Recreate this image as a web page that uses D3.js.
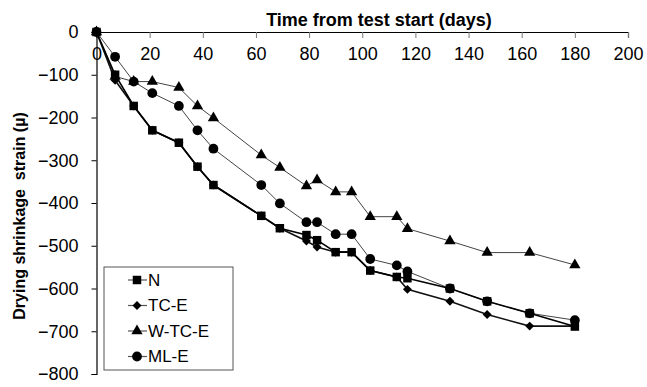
<!DOCTYPE html>
<html>
<head>
<meta charset="utf-8">
<script src="https://cdn.jsdelivr.net/npm/d3@7"></script>
<style>
  body { margin: 0; background: #fff; }
  svg { display: block; font-family: "Liberation Sans", Arial, sans-serif; }
</style>
</head>
<body>
<div id="chart"></div>
<script>
// Days since the test started
const days = [0, 7, 14, 21, 31, 38, 44, 62, 69, 79, 83, 90, 96, 103, 113, 117, 133, 147, 163, 180];

// Drying shrinkage strain per mix (µ)
const seriesN     = [0, -100, -173, -230, -259, -315, -358, -430, -459, -475, -487, -515, -515, -558, -573, -576, -600, -630, -658, -689];
const seriesTCE   = [0, -113, -173, -230, -259, -315, -358, -430, -459, -489, -503, -515, -515, -558, -573, -602, -630, -661, -688, -688];
const seriesWTCE  = [0, -104, -116, -116, -130, -173, -201, -288, -317, -360, -346, -374, -374, -432, -432, -460, -489, -516, -516, -545];
const seriesMLE   = [0, -58, -116, -143, -173, -230, -273, -358, -401, -445, -445, -473, -473, -531, -546, -560, -600, -630, -658, -674];

const seriesNames = ["N", "TC-E", "W-TC-E", "ML-E"];
const xTicks = [0, 20, 40, 60, 80, 100, 120, 140, 160, 180, 200];
const yTicks = [0, -100, -200, -300, -400, -500, -600, -700, -800];

const width = 647, height = 387;
const margin = { top: 32, right: 19, bottom: 13, left: 96.5 };

const svg = d3.select("#chart").append("svg")
  .attr("width", width)
  .attr("height", height);

const x = d3.scaleLinear().domain([0, 200]).range([margin.left, width - margin.right]);
const y = d3.scaleLinear().domain([-800, 0]).range([height - margin.bottom, margin.top]);

// x axis sits on top (at y = 0), ticks pointing down into the plot
const xAxis = svg.append("g")
  .attr("transform", `translate(0,${y(0)})`)
  .call(d3.axisBottom(x).tickValues(xTicks).tickSize(6).tickPadding(9).tickFormat(d3.format("d")));
xAxis.select(".domain").attr("stroke", "#000").attr("stroke-width", 1.2);
xAxis.selectAll(".tick line").attr("stroke", "#777");
xAxis.selectAll(".tick").filter((d) => d === 0).select("line").remove();
xAxis.selectAll("text").attr("font-size", 18).attr("fill", "#000")
  .attr("font-family", "Liberation Sans, Arial, sans-serif");

const yAxis = svg.append("g")
  .attr("transform", `translate(${x(0)},0)`)
  .call(d3.axisLeft(y).tickValues(yTicks).tickSize(5).tickPadding(13).tickFormat(d3.format("d")));
yAxis.select(".domain").attr("stroke", "#000").attr("stroke-width", 1.2);
yAxis.selectAll(".tick line").attr("stroke", "#000");
yAxis.selectAll("text").attr("font-size", 18).attr("fill", "#000")
  .attr("font-family", "Liberation Sans, Arial, sans-serif");

// axis titles
svg.append("text")
  .attr("x", 379).attr("y", 26)
  .attr("text-anchor", "middle")
  .attr("font-size", 18).attr("font-weight", "bold")
  .text("Time from test start (days)");

svg.append("text")
  .attr("transform", "translate(25,216) rotate(-90)")
  .attr("text-anchor", "middle")
  .attr("font-size", 16).attr("font-weight", "bold")
  .style("white-space", "pre")
  .text("Drying shrinkage  strain (\u00b5)");

// marker shapes (diamond = square turned 45 degrees)
const symbols = {
  "N": { path: d3.symbol(d3.symbolSquare, 72)(), rot: 0 },
  "TC-E": { path: d3.symbol(d3.symbolSquare, 40)(), rot: 45 },
  "W-TC-E": { path: d3.symbol(d3.symbolTriangle, 55)(), rot: 0 },
  "ML-E": { path: d3.symbol(d3.symbolCircle, 75)(), rot: 0 }
};
const lineStyle = {
  "N": { stroke: "#000", width: 1.6 },
  "TC-E": { stroke: "#111", width: 1.6 },
  "W-TC-E": { stroke: "#444", width: 1 },
  "ML-E": { stroke: "#444", width: 1 }
};

const seriesData = [
  { name: "W-TC-E", values: seriesWTCE },
  { name: "ML-E", values: seriesMLE },
  { name: "TC-E", values: seriesTCE },
  { name: "N", values: seriesN }
];

const line = d3.line().x((d) => x(d[0])).y((d) => y(d[1]));

seriesData.forEach((s) => {
  const pts = days.map((d, i) => [d, s.values[i]]);
  const sym = symbols[s.name];
  svg.append("path")
    .datum(pts)
    .attr("fill", "none")
    .attr("stroke", lineStyle[s.name].stroke)
    .attr("stroke-width", lineStyle[s.name].width)
    .attr("d", line);
  svg.append("g").selectAll("path")
    .data(pts)
    .join("path")
    .attr("transform", (d) => `translate(${x(d[0])},${y(d[1])}) rotate(${sym.rot})`)
    .attr("d", sym.path)
    .attr("fill", "#000");
});

// legend
const legend = svg.append("g").attr("transform", "translate(104,267)");
legend.append("rect")
  .attr("width", 129).attr("height", 103)
  .attr("fill", "#fff").attr("stroke", "#555").attr("stroke-width", 1);

seriesNames.forEach((name, i) => {
  const sym = symbols[name];
  const row = legend.append("g").attr("transform", `translate(0,${13 + i * 25.5})`);
  row.append("line")
    .attr("x1", 24).attr("x2", 43)
    .attr("stroke", "#555").attr("stroke-width", 1.2);
  row.append("path")
    .attr("transform", `translate(33,0) rotate(${sym.rot})`)
    .attr("d", sym.path)
    .attr("fill", "#000");
  row.append("text")
    .attr("x", 44).attr("y", 0).attr("dy", "0.35em")
    .attr("font-size", 17)
    .text(name);
});
</script>
</body>
</html>
